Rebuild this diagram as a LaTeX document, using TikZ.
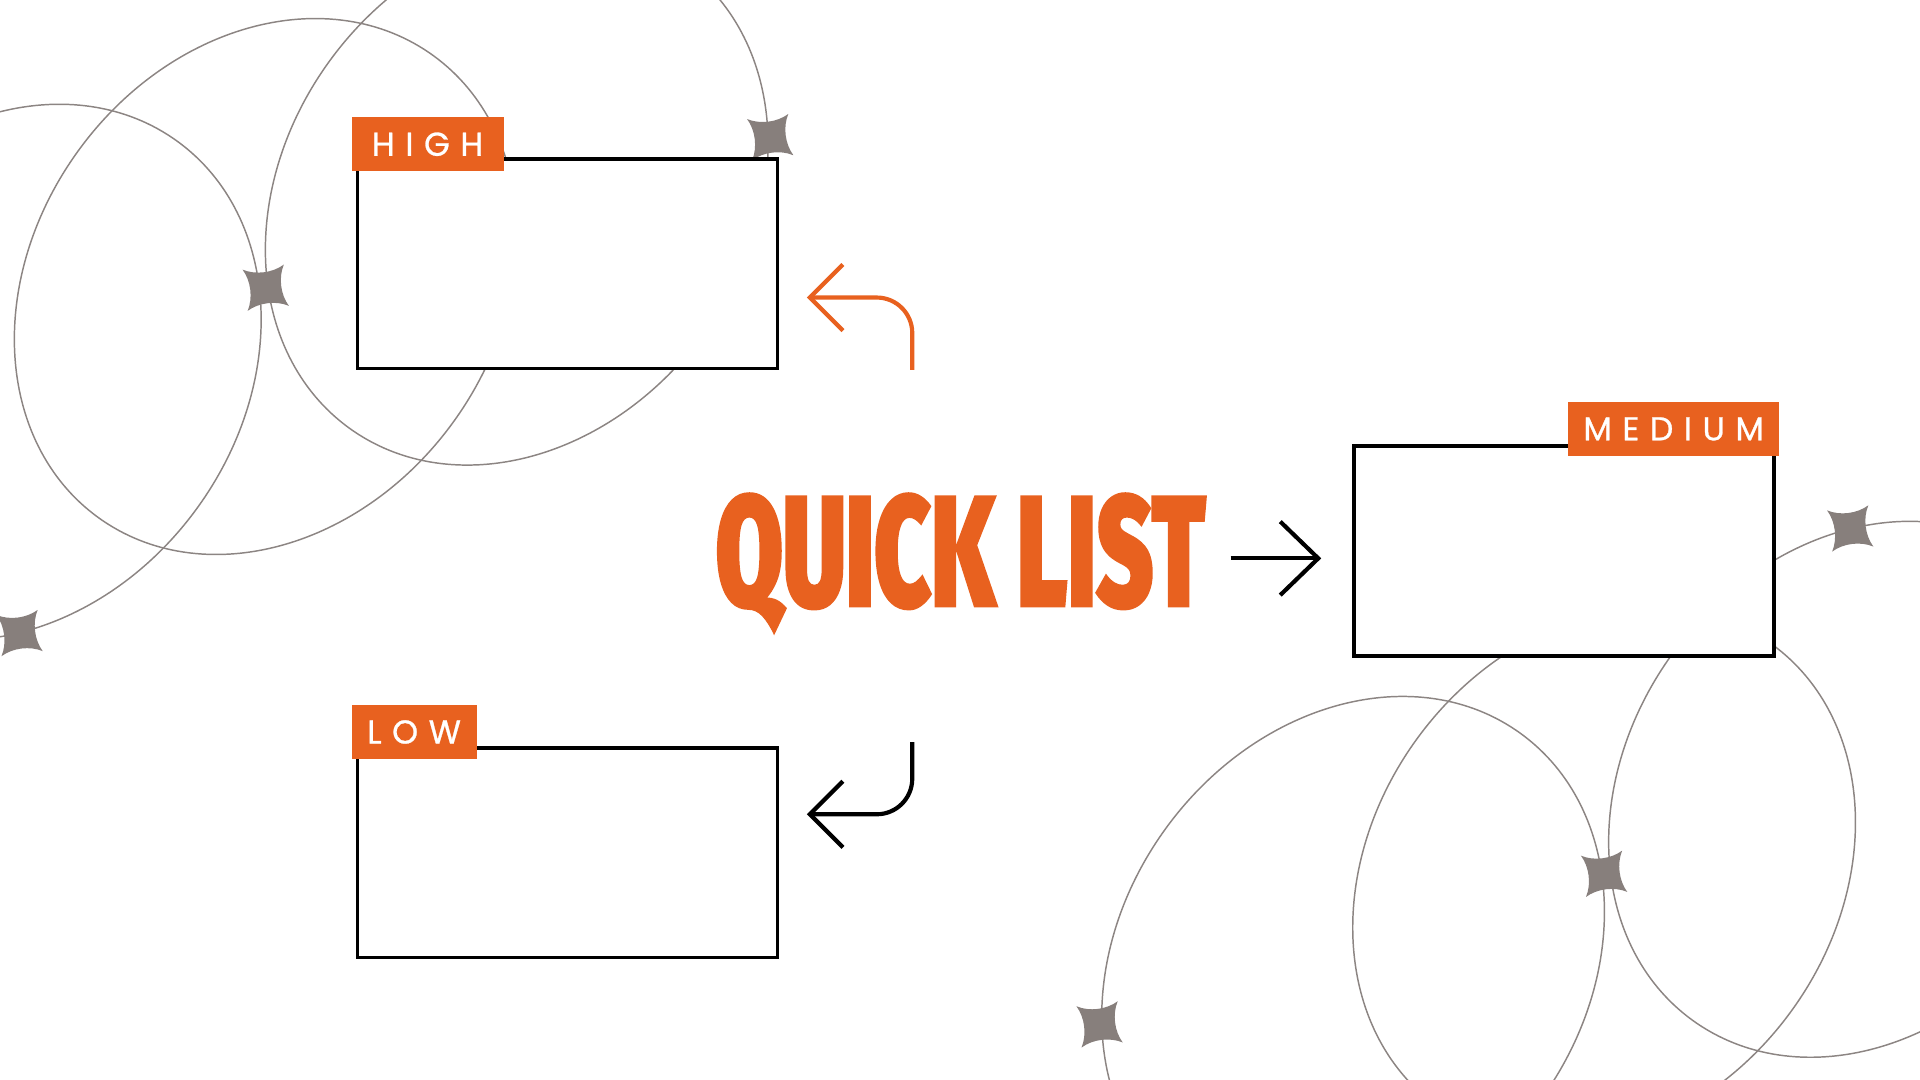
\documentclass[tikz,border=0pt]{standalone}
\usepackage{fontspec}
\usetikzlibrary{arrows.meta}
\newfontfamily\titlefont[FakeBold=1.5]{Fira Sans Black}
\newfontfamily\tagfont[LetterSpace=32, FakeBold=0.8]{Poppins}
\definecolor{listorange}{HTML}{E8611F}
\definecolor{orbitgray}{HTML}{8C8583}
\definecolor{stargray}{HTML}{877F7C}
\tikzset{sparkle/.pic={
    \fill[stargray, rotate=52] (24,0) .. controls (13,3) and (3,13) .. (0,24)
        .. controls (-3,13) and (-13,3) .. (-24,0) .. controls (-13,-3) and (-3,-13) .. (0,-24)
        .. controls (3,-13) and (13,-3) .. cycle;}}

\begin{document}
\begin{tikzpicture}
                [x=1pt, y=1pt,
                 listbox/.style={draw, line width=3pt, fill=white, outer sep=0pt, inner sep=0pt,
                                 minimum width=343pt, minimum height=171pt},
                 tag/.style={fill=listorange, text=white, inner sep=0pt, minimum height=44pt,
                             font=\tagfont\fontsize{27}{27}\selectfont},
                 turnarrow/.style={line width=3.4pt, rounded corners=29pt, -{Straight Barb[length=27pt,width=54pt]}}]
                \useasboundingbox (0,0) rectangle (1568,882);
                \clip (0,0) rectangle (1568,882);
                \foreach \turn in {0,180} {
                    \begin{scope}[rotate around={\turn:(763.5,407.7)}]
                        \foreach \cx/\cy in {8/578, 217/648, 422/721}
                            \draw[orbitgray, line width=1.2pt, shift={(\cx,\cy)}, rotate=54]
                                (0,0) ellipse [x radius=233, y radius=189];
                        \pic at (217,647) {sparkle};
                        \pic at (629,770) {sparkle};
                        \pic at (16,365) {sparkle};
                    \end{scope}
                }
                \node[listbox] (high) at (463.5,666.5) { };
                \node[listbox] (low) at (463.5,185.5) { };
                \node[listbox] (medium) at (1277.5,432) { };
                \node[tag, minimum width=124pt, anchor=south west] (hightag) at ([shift={(-5,-10)}]high.north west) {HIGH};
                \node[tag, minimum width=102pt, anchor=south west] (lowtag) at ([shift={(-5,-9)}]low.north west) {LOW};
                \node[tag, minimum width=172pt, anchor=south east] (mediumtag) at ([shift={(4,-8)}]medium.north east) {MEDIUM};
                \node[text=listorange, inner sep=0pt, anchor=base] (title) at (784.5,387)
                    {\resizebox{400pt}{92pt}{\titlefont QUICK LIST}};
                \coordinate (highfrom) at (745,580);
                \coordinate (highto) at (659,639);
                \coordinate (lowfrom) at (745,276);
                \coordinate (lowto) at (659,217);
                \coordinate (mediumfrom) at (1005,426);
                \coordinate (mediumto) at (1079,426);
                \draw[turnarrow, listorange] (highfrom) |- (highto);
                \draw[turnarrow] (lowfrom) |- (lowto);
                \draw[line width=3.4pt, -{Straight Barb[length=31pt,width=60pt]}] (mediumfrom) -- (mediumto);
            \end{tikzpicture}
\end{document}
